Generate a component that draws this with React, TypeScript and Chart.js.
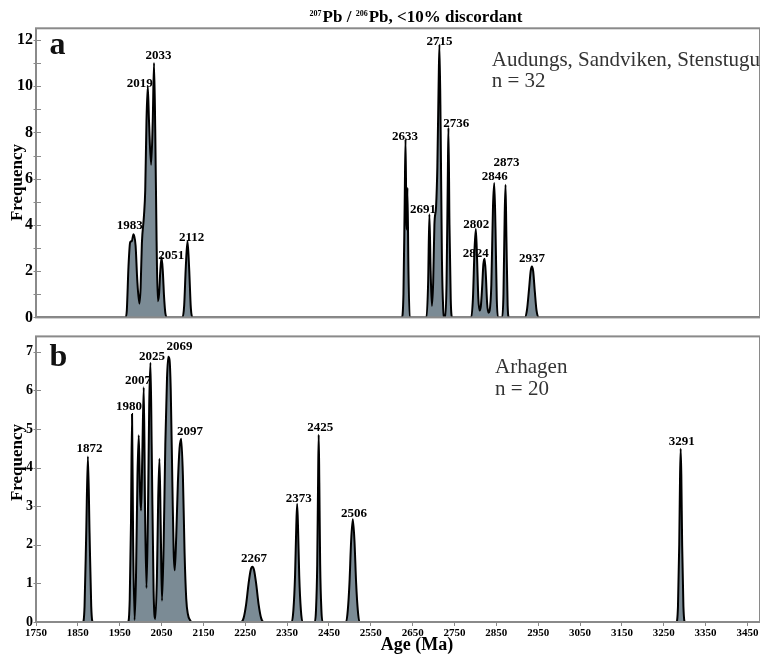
import React, { useEffect, useRef } from 'react';
import { Chart, registerables } from 'chart.js';

Chart.register(...registerables);

const FONT = "'Liberation Serif', 'Times New Roman', serif";
const FILL = '#7b8b95';
const FRAME = '#8a8a8a';

const X_MIN = 1750;
const X_MAX = 3480;
const X_TICKS = [1750, 1850, 1950, 2050, 2150, 2250, 2350, 2450, 2550, 2650, 2750, 2850, 2950, 3050, 3150, 3250, 3350, 3450];

const Y_MAX_A = 12.5;
const Y_TICKS_A = [0, 1, 2, 3, 4, 5, 6, 7, 8, 9, 10, 11, 12];
const Y_LABELS_A = [0, 2, 4, 6, 8, 10, 12];
const Y_MAX_B = 7.4;
const Y_TICKS_B = [0, 1, 2, 3, 4, 5, 6, 7];
const Y_LABELS_B = [0, 1, 2, 3, 4, 5, 6, 7];

// Panel a: probability density curve (age Ma, frequency)
const AGES_A = [
  1750, 1964, 1967, 1971, 1975, 1979, 1983, 1988, 1992, 1997, 2000, 2003, 2008, 2011, 2014, 2017, 2020, 2025, 2029, 2032,
  2035, 2038, 2041, 2044, 2047, 2050, 2053, 2056, 2059, 2063,
  2100, 2104, 2108, 2112, 2116, 2120, 2124,
  2624, 2628, 2631, 2633, 2635, 2636, 2637.5, 2640, 2643,
  2683, 2687, 2690, 2693, 2696, 2699, 2702, 2706, 2709, 2712, 2714, 2717, 2720, 2723, 2726,
  2728, 2731, 2734, 2735.5, 2738, 2741, 2744,
  2790, 2794, 2798, 2801, 2804, 2807, 2810, 2813, 2816, 2819, 2822, 2825, 2828, 2831, 2834, 2838, 2842, 2845, 2848, 2851, 2854,
  2864, 2867, 2870, 2872, 2874, 2877, 2880,
  2918, 2923, 2928, 2932, 2935, 2938, 2942, 2946, 2951,
  3480,
];
const FREQ_A = [
  0, 0, 0.3, 2.2, 3.25, 3.3, 3.6, 3.1, 1.6, 0.6, 1.3, 3.2, 4.4, 5.5, 8.5, 10, 8.5, 6.6, 8.5, 11,
  8, 3.5, 0.7, 1.0, 2.0, 2.6, 2.0, 0.9, 0.2, 0,
  0, 0.5, 2.2, 3.3, 2.1, 0.4, 0,
  0, 1.0, 5.0, 7.7, 4.2, 3.8, 5.6, 2.0, 0,
  0, 1.5, 4.46, 2.0, 0.5, 1.5, 4.0, 4.8, 6.5, 10, 11.8, 8, 2.5, 0.4, 0,
  0, 1.5, 6, 8.2, 4, 0.8, 0,
  0, 0.8, 3.0, 3.82, 2.5, 0.8, 0.3, 0.5, 1.3, 2.3, 2.54, 1.8, 0.6, 0.2, 0.3, 1.4, 4.8, 5.81, 3.8, 0.8, 0,
  0, 1.0, 4.5, 5.74, 3.5, 0.5, 0,
  0, 0.3, 1.2, 2.0, 2.2, 2.0, 1.1, 0.3, 0,
  0,
];

// Panel b: probability density curve (age Ma, frequency)
const AGES_B = [
  1750, 1862, 1866, 1870, 1874, 1878, 1882, 1886,
  1970, 1974, 1977, 1979.5, 1982, 1985.5, 1989, 1992.5, 1995.5, 1998.5, 2001, 2004, 2007.5, 2010.5, 2014, 2017.5, 2020.5,
  2023.5, 2026.5, 2031, 2035, 2039, 2042, 2045, 2048, 2051, 2055, 2059, 2063, 2066, 2069, 2072, 2076, 2079, 2081.5,
  2085, 2089, 2093, 2097, 2101, 2105, 2109, 2113, 2118, 2122,
  2240, 2246, 2252, 2258, 2263, 2267, 2271, 2276, 2282, 2288, 2294,
  2361, 2365, 2369, 2372, 2374, 2376, 2379, 2383, 2387,
  2416, 2419, 2422, 2424, 2425.5, 2427, 2429, 2432, 2435,
  2491, 2495, 2499, 2503, 2507, 2511, 2515, 2519, 2523,
  3280, 3284, 3287, 3289, 3290.5, 3292, 3294, 3297, 3301,
  3480,
];
const FREQ_B = [
  0, 0, 0.4, 2.3, 4.29, 2.3, 0.4, 0,
  0, 0.6, 2.6, 5.39, 2.2, 0.05, 1.2, 3.8, 4.84, 3.4, 2.89, 4.3, 6.08, 3.0, 0.88, 2.8, 5.6,
  6.72, 4.5, 0.8, 0.08, 1.2, 3.2, 4.23, 2.5, 0.55, 2.0, 4.6, 6.3, 6.87, 6.8, 6.0, 3.5, 1.8, 1.34,
  2.2, 3.6, 4.5, 4.75, 3.8, 1.8, 0.6, 0.2, 0.05, 0,
  0, 0.1, 0.45, 1.0, 1.35, 1.43, 1.35, 1.0, 0.45, 0.1, 0,
  0, 0.3, 1.2, 2.5, 3.06, 2.5, 1.2, 0.3, 0,
  0, 0.3, 1.5, 3.6, 4.85, 3.6, 1.5, 0.3, 0,
  0, 0.3, 1.0, 2.1, 2.66, 2.1, 1.0, 0.3, 0,
  0, 0.4, 2.0, 3.8, 4.49, 3.8, 2.0, 0.4, 0,
  0,
];

// Peak labels: text, anchor age (label centre), anchor frequency (label baseline)
const PEAK_TEXT_A = ['1983', '2019', '2033', '2051', '2112', '2633', '2691', '2715', '2736', '2802', '2824', '2846', '2873', '2937'];
const PEAK_AGE_A = [1974, 1998, 2043, 2073, 2122, 2632, 2675, 2714, 2754, 2802, 2801, 2846, 2874, 2935];
const PEAK_FREQ_A = [3.81, 9.95, 11.18, 2.52, 3.3, 7.68, 4.5, 11.79, 8.25, 3.86, 2.59, 5.94, 6.55, 2.38];

const PEAK_TEXT_B = ['1872', '1980', '2007', '2025', '2069', '2097', '2267', '2373', '2425', '2506', '3291'];
const PEAK_AGE_B = [1878, 1972, 1994, 2027, 2093, 2118, 2271, 2378, 2429, 2510, 3293];
const PEAK_FREQ_B = [4.4, 5.49, 6.16, 6.79, 7.04, 4.84, 1.55, 3.1, 4.95, 2.73, 4.59];

const TITLE_PARTS = ['207', 'Pb / ', '206', 'Pb, <10% discordant'];
const SAMPLE_A = ['Audungs, Sandviken, Stenstugu', 'n = 32'];
const SAMPLE_B = ['Arhagen', 'n = 20'];
const SAMPLE_POS_A = { age: 2839, freq: [10.87, 9.95] };
const SAMPLE_POS_B = { age: 2847, freq: [6.45, 5.87] };
const Y_TITLE = 'Frequency';
const X_TITLE = 'Age (Ma)';

type PanelCfg = {
  letter: string;
  peakText: string[];
  peakAge: number[];
  peakFreq: number[];
  sample: string[];
  samplePos: { age: number; freq: number[] };
  yTitleCenter: number;
  title: boolean;
  xTitle: boolean;
};

function overlayPlugin(cfg: PanelCfg) {
  return {
    id: 'overlay' + cfg.letter,
    afterDraw(chart: any) {
      const ctx = chart.ctx;
      const { left, right, top, bottom } = chart.chartArea;
      const xs = chart.scales.x;
      const ys = chart.scales.y;
      ctx.save();
      // frame
      ctx.strokeStyle = FRAME;
      ctx.lineWidth = 2;
      ctx.strokeRect(left, top, right - left, bottom - top);
      // y tick marks crossing the axis
      ctx.lineWidth = 1;
      ys.ticks.forEach((t: any) => {
        const y = Math.round(ys.getPixelForValue(t.value)) + 0.5;
        ctx.beginPath();
        ctx.moveTo(left - 2.5, y);
        ctx.lineTo(left + 5, y);
        ctx.stroke();
      });
      // panel letter
      ctx.fillStyle = '#111';
      ctx.font = `bold 32px ${FONT}`;
      ctx.textAlign = 'left';
      ctx.textBaseline = 'alphabetic';
      ctx.fillText(cfg.letter, left + 13.5, cfg.letter === 'a' ? top + 26 : top + 29.4);
      // peak labels
      ctx.fillStyle = '#000';
      ctx.font = `bold 13px ${FONT}`;
      ctx.textAlign = 'center';
      cfg.peakText.forEach((txt, i) => {
        ctx.fillText(txt, xs.getPixelForValue(cfg.peakAge[i]), ys.getPixelForValue(cfg.peakFreq[i]));
      });
      // sample annotation
      ctx.fillStyle = '#333';
      ctx.font = `21px ${FONT}`;
      ctx.textAlign = 'left';
      cfg.sample.forEach((txt, i) => {
        ctx.fillText(txt, xs.getPixelForValue(cfg.samplePos.age), ys.getPixelForValue(cfg.samplePos.freq[i]));
      });
      // y title
      ctx.fillStyle = '#000';
      ctx.font = `bold 17px ${FONT}`;
      ctx.save();
      ctx.translate(21.5, cfg.yTitleCenter);
      ctx.rotate(-Math.PI / 2);
      ctx.textAlign = 'center';
      ctx.fillText(Y_TITLE, 0, 0);
      ctx.restore();
      // top title with superscripts
      if (cfg.title) {
        const big = `bold 17px ${FONT}`;
        const small = `bold 8px ${FONT}`;
        let w = 0;
        TITLE_PARTS.forEach((p, i) => {
          ctx.font = i % 2 === 0 ? small : big;
          w += ctx.measureText(p).width + (i % 2 === 0 ? 1 : 0);
        });
        let x = 416 - w / 2;
        ctx.textAlign = 'left';
        TITLE_PARTS.forEach((p, i) => {
          const sup = i % 2 === 0;
          ctx.font = sup ? small : big;
          ctx.fillText(p, x, sup ? 15.5 : 21.5);
          x += ctx.measureText(p).width + (sup ? 1 : 0);
        });
      }
      if (cfg.xTitle) {
        ctx.font = `bold 18px ${FONT}`;
        ctx.textAlign = 'center';
        ctx.fillText(X_TITLE, 417, chart.height - 5);
      }
      ctx.restore();
    },
  };
}

function makePoints(ages: number[], freqs: number[]) {
  return ages.map((x, i) => ({ x, y: freqs[i] }));
}

function dataset(ages: number[], freqs: number[]) {
  return {
    data: makePoints(ages, freqs),
    borderColor: '#000',
    borderWidth: 2,
    backgroundColor: FILL,
    fill: 'origin',
    pointRadius: 0,
    cubicInterpolationMode: 'monotone',
  };
}

function yScale(max: number, ticks: number[], labels: number[], size: number) {
  return {
    type: 'linear',
    min: 0,
    max,
    afterBuildTicks: (s: any) => {
      s.ticks = ticks.map((v) => ({ value: v }));
    },
    afterFit: (s: any) => {
      s.width = 36;
    },
    grid: { display: false, drawTicks: false },
    border: { display: false },
    ticks: {
      font: { family: FONT, weight: 'bold', size },
      color: '#000',
      padding: 3,
      autoSkip: false,
      callback: (v: any) => (labels.includes(Number(v)) ? String(v) : ''),
    },
  };
}

export default function App() {
  const refA = useRef<HTMLCanvasElement>(null);
  const refB = useRef<HTMLCanvasElement>(null);

  useEffect(() => {
    const chartA = new Chart(refA.current as HTMLCanvasElement, {
      type: 'line',
      data: { datasets: [dataset(AGES_A, FREQ_A) as any] },
      options: {
        animation: false,
        responsive: false,
        devicePixelRatio: 1,
        layout: { padding: { top: 28.3, bottom: 7.3, left: 0, right: 0 } },
        plugins: { legend: { display: false }, tooltip: { enabled: false } },
        scales: {
          x: { type: 'linear', min: X_MIN, max: X_MAX, display: false },
          y: yScale(Y_MAX_A, Y_TICKS_A, Y_LABELS_A, 16) as any,
        },
      },
      plugins: [
        overlayPlugin({
          letter: 'a',
          peakText: PEAK_TEXT_A,
          peakAge: PEAK_AGE_A,
          peakFreq: PEAK_FREQ_A,
          sample: SAMPLE_A,
          samplePos: SAMPLE_POS_A,
          yTitleCenter: 182.5,
          title: true,
          xTitle: false,
        }),
      ],
    });
    const chartB = new Chart(refB.current as HTMLCanvasElement, {
      type: 'line',
      data: { datasets: [dataset(AGES_B, FREQ_B) as any] },
      options: {
        animation: false,
        responsive: false,
        devicePixelRatio: 1,
        layout: { padding: { top: 2.3, bottom: 0, left: 0, right: 0 } },
        plugins: { legend: { display: false }, tooltip: { enabled: false } },
        scales: {
          x: {
            type: 'linear',
            min: X_MIN,
            max: X_MAX,
            afterBuildTicks: (s: any) => {
              s.ticks = X_TICKS.map((v) => ({ value: v }));
            },
            afterFit: (s: any) => {
              s.height = 33;
            },
            grid: { display: true, drawOnChartArea: false, drawTicks: true, tickLength: 4, color: FRAME },
            border: { display: false },
            ticks: {
              font: { family: FONT, weight: 'bold', size: 11 },
              color: '#000',
              padding: 1,
              maxRotation: 0,
              autoSkip: false,
              callback: (v: any) => String(v),
            },
          },
          y: yScale(Y_MAX_B, Y_TICKS_B, Y_LABELS_B, 14) as any,
        },
      },
      plugins: [
        overlayPlugin({
          letter: 'b',
          peakText: PEAK_TEXT_B,
          peakAge: PEAK_AGE_B,
          peakFreq: PEAK_FREQ_B,
          sample: SAMPLE_B,
          samplePos: SAMPLE_POS_B,
          yTitleCenter: 137.5,
          title: false,
          xTitle: true,
        }),
      ],
    });
    return () => {
      chartA.destroy();
      chartB.destroy();
    };
  }, []);

  return (
    <div style={{ position: 'fixed', left: 0, top: 0, width: 760, height: 655, background: '#fff', overflow: 'hidden' }}>
      <canvas ref={refA} width={760} height={330} style={{ position: 'absolute', left: 0, top: 0 }} />
      <canvas ref={refB} width={760} height={330} style={{ position: 'absolute', left: 0, top: 325 }} />
    </div>
  );
}
